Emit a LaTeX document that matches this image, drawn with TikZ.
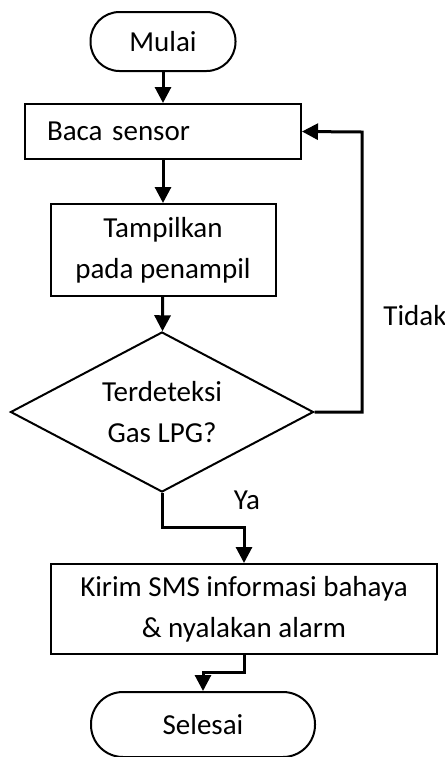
\documentclass[tikz,border=0pt]{standalone}
\usepackage{fontspec}
\setmainfont{Carlito}
\usetikzlibrary{positioning,arrows.meta,shapes.geometric}

\begin{document}
\begin{tikzpicture}[x=0.5pt,y=-0.5pt,
		font=\fontsize{14.5}{20.5}\selectfont,
		term/.style={draw,line width=1pt,inner sep=0pt,rounded corners=14.5pt},
		proc/.style={draw,line width=1pt,inner sep=0pt,align=center},
		dec/.style={draw,diamond,line width=1pt,inner sep=0pt,aspect=1.89,align=center},
		arr/.style={line width=1.5pt,-{Triangle[length=8pt,width=8pt]}}]
		\useasboundingbox (0,0) rectangle (445,757);
		
		\node[term,minimum width=72.5pt,minimum height=29.5pt] (mulai) at (163,41.5) {Mulai};
		\node[proc,minimum width=138pt,minimum height=27.5pt,text width=116pt,align=left] (baca) at (163,131.5) {Baca sensor};
		\node[proc,minimum width=112.5pt,minimum height=46pt] (tampil) at (163,250) {Tampilkan\\pada penampil};
		\node[dec,minimum width=151.5pt,minimum height=80pt] (deteksi) at (162,412) {Terdeteksi\\Gas LPG?};
		\node[proc,minimum width=193pt,minimum height=45pt] (kirim) at (244,609) {Kirim SMS informasi bahaya\\\& nyalakan alarm};
		\node[term,rounded corners=16pt,minimum width=112pt,minimum height=32.5pt] (selesai) at (203,724.5) {Selesai};
		
		\node[anchor=west,inner sep=0pt] (tidak) at (383,316) {Tidak};
		\node (ya) at (247,500) {Ya};
		
		\coordinate (loop) at (362,132);
		\coordinate (yabend) at (162,527);
		\coordinate (kbend) at (244,672);
		
		\draw[arr] (mulai) -- (baca);
		\draw[arr] (baca) -- (tampil);
		\draw[arr] (tampil) -- (deteksi);
		\draw[arr] (deteksi.east) -| (loop) -- (baca.east);
		\draw[arr] (deteksi.south) -- (yabend) -| (kirim.north);
		\draw[arr] (kirim.south) -- (kbend) -| (selesai.north);
	\end{tikzpicture}
\end{document}
